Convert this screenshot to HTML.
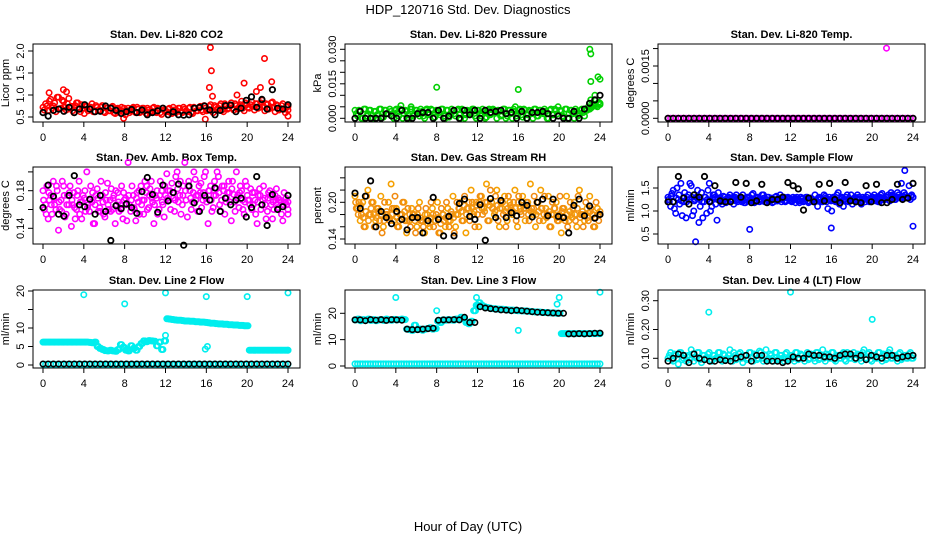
<!DOCTYPE html>
<html><head><meta charset="utf-8"><style>
html,body{margin:0;padding:0;background:#fff;}
svg{display:block;font-family:"Liberation Sans",Arial,sans-serif;}
</style></head><body>
<svg id="fig" xmlns="http://www.w3.org/2000/svg" width="936" height="540" viewBox="0 0 936 540">
<text x="468" y="14" text-anchor="middle" font-size="13">HDP_120716  Std. Dev. Diagnostics</text>
<text x="468" y="531" text-anchor="middle" font-size="13">Hour of Day (UTC)</text>
</svg>
<script>
// ---------- data ----------
const xTicks = [0,4,8,12,16,20,24];
const co2Red = [0.72,0.8,0.65,0.9,0.75,0.62,0.95,0.7,0.85,0.66,0.92,0.74,0.6,0.82,0.7,0.78,0.58,0.74,0.68,0.8,0.62,0.72,0.66,0.76,0.6,0.7,0.64,0.74,0.58,0.7,0.66,0.62,0.55,0.7,0.64,0.72,0.6,0.68,0.62,0.7,0.58,0.66,0.64,0.72,0.6,0.68,0.56,0.66,0.62,0.7,0.58,0.66,0.64,0.7,0.6,0.68,0.62,0.72,0.58,0.7,0.64,0.74,0.62,0.7,0.66,0.78,0.6,0.72,0.68,0.8,0.62,0.74,0.7,0.82,0.66,0.76,0.72,0.86,0.64,0.78,0.7,0.84,0.66,0.8,0.72,0.88,0.64,0.78,0.7,0.84,0.62,0.76,0.68,0.8,0.6,0.74];
const co2RedB = [0.66,0.75,0.86,0.7,0.82,0.95,0.68,0.88,0.72,0.8,0.7,0.64,0.76,0.68,0.62,0.7,0.74,0.64,0.72,0.62,0.76,0.66,0.72,0.62,0.7,0.64,0.72,0.6,0.68,0.62,0.72,0.7,0.64,0.6,0.7,0.62,0.72,0.6,0.7,0.64,0.7,0.6,0.7,0.62,0.7,0.6,0.7,0.64,0.68,0.6,0.72,0.6,0.7,0.62,0.72,0.64,0.7,0.6,0.72,0.64,0.7,0.66,0.76,0.64,0.74,0.66,0.76,0.68,0.76,0.66,0.8,0.68,0.76,0.7,0.8,0.68,0.78,0.7,0.82,0.72,0.78,0.74,0.8,0.7,0.82,0.74,0.8,0.68,0.82,0.72,0.78,0.66,0.76,0.68,0.72,0.66];
const co2OutT = [0.6,2.0,2.3,16.4,16.5,16.3,16.6,21.7,22.4,19.7,21.3,20.9,19.0,15.9,7.9,3.4,24];
const co2OutV = [1.05,1.12,1.07,2.08,1.55,1.17,0.97,1.83,1.3,1.27,1.17,1.08,1.0,0.45,0.47,0.82,0.52];
const co2Black = [0.6,0.52,0.65,0.68,0.63,0.72,0.6,0.68,0.78,0.68,0.62,0.63,0.75,0.7,0.65,0.58,0.62,0.67,0.6,0.66,0.55,0.6,0.64,0.7,0.55,0.62,0.55,0.54,0.55,0.7,0.72,0.75,0.66,0.55,0.65,0.76,0.77,0.62,0.7,0.88,0.96,0.72,0.9,0.68,1.12,0.7,0.68,0.78];

const presGreen = [0.0035,0.001,0.003,0,0.004,0.002,0.0035,0,0.003,0.0015,0.004,0.0005,0.0035,0.002,0.003,0,0.004,0.001,0.0035,0.002,0.003,0,0.004,0.0015,0.0035,0.001,0.003,0,0.004,0.002,0.0035,0.0005,0.003,0.0015,0.004,0,0.0035,0.002,0.003,0.001,0.004,0,0.0035,0.0015,0.003,0.002,0.004,0,0.0035,0.001,0.003,0.0005,0.004,0.002,0.0035,0,0.003,0.0015,0.004,0.001,0.0035,0,0.003,0.002,0.004,0.0005,0.0035,0.0015,0.003,0,0.004,0.001,0.0035,0.002,0.003,0,0.004,0.0015,0.0035,0.001,0.003,0.0005,0.004,0.002,0.0035,0,0.003,0.0015,0.004,0.001,0.0035,0.004,0.005,0.006,0.005,0.006];
const presGreenB = [0.002,0.0035,0,0.004,0.001,0.0035,0,0.003,0.0015,0.004,0.0005,0.0035,0.002,0.004,0.001,0.0035,0.0025,0.004,0,0.0035,0.0015,0.004,0.001,0.0035,0.0025,0.004,0.001,0.0035,0.0015,0.004,0,0.0035,0.0025,0.004,0.001,0.0035,0.0005,0.004,0.002,0.0035,0.0015,0.004,0,0.0035,0.0025,0.004,0.001,0.0035,0.002,0.004,0,0.0035,0.0015,0.004,0.0025,0.0035,0.001,0.004,0,0.0035,0.002,0.004,0.001,0.0035,0.0015,0.004,0,0.0035,0.002,0.004,0.001,0.0035,0.0025,0.004,0,0.0035,0.0015,0.004,0.002,0.0035,0.001,0.004,0,0.0035,0.002,0.004,0.001,0.0035,0.0025,0.004,0.005,0.0045,0.006,0.0055,0.007,0.0065];
const presOutT = [4.5,5.5,8.0,16.0,15.7,19.9,23.0,23.1,23.1,23.8,24.0,23.1,23.5,7.0];
const presOutV = [0.0055,0.005,0.0135,0.0125,0.005,0.005,0.030,0.028,0.016,0.018,0.017,0.008,0.010,0.004];
const presBlack = [0,0.003,0,0,0,0,0.002,0.001,0,0.0035,0,0,0.002,0.0025,0.0025,0,0.0035,0,0.001,0.0035,0,0.0035,0.0015,0.0035,0,0.0035,0.0025,0.003,0.0035,0.002,0.0025,0,0.003,0,0.0025,0.0025,0.003,0.002,0,0.001,0,0,0.003,0,0.004,0.0065,0.008,0.01];

const tempMag = new Array(96).fill(0);
const tempOutT = [21.4];
const tempOutV = [0.00201];
const tempBlack = new Array(48).fill(0);

const ambMagA = [0.18,0.165,0.15,0.175,0.19,0.16,0.138,0.17,0.185,0.155,0.165,0.142,0.178,0.16,0.19,0.15,0.172,0.2,0.158,0.168,0.145,0.182,0.162,0.175,0.152,0.188,0.17,0.16,0.145,0.178,0.165,0.15,0.172,0.21,0.158,0.175,0.148,0.168,0.185,0.155,0.178,0.162,0.19,0.145,0.172,0.16,0.18,0.152,0.198,0.17,0.188,0.158,0.2,0.175,0.165,0.21,0.152,0.18,0.168,0.192,0.158,0.178,0.17,0.2,0.145,0.185,0.162,0.175,0.195,0.158,0.18,0.168,0.19,0.148,0.176,0.2,0.162,0.18,0.155,0.185,0.17,0.16,0.178,0.145,0.182,0.165,0.172,0.158,0.18,0.15,0.175,0.162,0.17,0.148,0.168,0.155];
const ambMagB = [0.16,0.185,0.17,0.155,0.165,0.18,0.16,0.19,0.152,0.175,0.185,0.165,0.15,0.18,0.168,0.175,0.158,0.165,0.185,0.145,0.175,0.158,0.19,0.155,0.17,0.16,0.182,0.175,0.165,0.158,0.185,0.17,0.148,0.165,0.185,0.16,0.178,0.155,0.17,0.19,0.16,0.182,0.168,0.175,0.155,0.19,0.165,0.175,0.18,0.16,0.172,0.195,0.168,0.155,0.185,0.17,0.19,0.16,0.2,0.175,0.185,0.162,0.195,0.168,0.18,0.158,0.19,0.2,0.165,0.185,0.155,0.178,0.168,0.19,0.158,0.175,0.185,0.16,0.19,0.17,0.182,0.165,0.155,0.175,0.16,0.185,0.15,0.178,0.165,0.16,0.182,0.17,0.155,0.178,0.165,0.16];
const ambMagC = [0.17,0.155,0.178,0.165,0.172,0.185,0.168,0.158,0.175,0.165,0.178,0.17,0.162,0.175,0.155,0.168,0.18,0.162,0.17,0.178,0.165,0.172,0.158,0.168,0.178,0.165,0.158,0.172,0.18,0.168,0.16,0.178,0.165,0.175,0.17,0.162,0.172,0.18,0.165,0.17,0.185,0.175,0.172,0.165,0.18,0.175,0.168,0.185,0.172,0.18,0.178,0.17,0.182,0.19,0.175,0.18,0.185,0.172,0.178,0.17,0.175,0.188,0.178,0.172,0.18,0.17,0.175,0.182,0.178,0.17,0.185,0.172,0.178,0.182,0.168,0.172,0.178,0.17,0.168,0.175,0.165,0.178,0.17,0.168,0.175,0.17,0.165,0.172,0.175,0.168,0.17,0.172,0.168,0.165,0.172,0.168];
const ambBlack = [0.162,0.186,0.174,0.155,0.153,0.175,0.196,0.165,0.163,0.171,0.155,0.175,0.158,0.127,0.164,0.161,0.166,0.162,0.156,0.179,0.194,0.176,0.157,0.186,0.169,0.178,0.187,0.122,0.185,0.167,0.158,0.175,0.17,0.183,0.158,0.172,0.165,0.17,0.172,0.152,0.162,0.195,0.165,0.143,0.176,0.16,0.163,0.175];

const rhA = [0.21,0.19,0.17,0.2,0.16,0.22,0.18,0.2,0.17,0.19,0.21,0.16,0.18,0.2,0.23,0.17,0.19,0.16,0.18,0.2,0.15,0.17,0.19,0.18,0.16,0.2,0.17,0.15,0.18,0.16,0.19,0.17,0.2,0.15,0.18,0.16,0.19,0.17,0.21,0.16,0.18,0.2,0.17,0.15,0.19,0.22,0.18,0.2,0.16,0.21,0.19,0.23,0.17,0.2,0.18,0.22,0.16,0.19,0.21,0.17,0.2,0.18,0.22,0.16,0.19,0.21,0.17,0.2,0.23,0.18,0.16,0.2,0.22,0.17,0.19,0.21,0.16,0.18,0.2,0.17,0.15,0.19,0.21,0.17,0.18,0.2,0.16,0.22,0.18,0.17,0.19,0.21,0.18,0.16,0.19,0.18];
const rhB = [0.19,0.2,0.18,0.16,0.21,0.18,0.2,0.16,0.19,0.17,0.15,0.2,0.18,0.17,0.19,0.21,0.16,0.18,0.2,0.17,0.19,0.16,0.18,0.15,0.19,0.17,0.16,0.19,0.17,0.2,0.16,0.18,0.15,0.19,0.17,0.2,0.16,0.18,0.15,0.2,0.19,0.17,0.21,0.19,0.17,0.2,0.16,0.18,0.21,0.18,0.2,0.17,0.22,0.19,0.21,0.17,0.2,0.18,0.16,0.21,0.19,0.2,0.17,0.21,0.18,0.19,0.2,0.17,0.19,0.21,0.2,0.17,0.19,0.21,0.18,0.16,0.2,0.19,0.17,0.21,0.19,0.17,0.16,0.2,0.19,0.17,0.21,0.18,0.16,0.2,0.17,0.19,0.16,0.2,0.17,0.18];
const rhC = [0.2,0.18,0.195,0.175,0.185,0.17,0.19,0.18,0.175,0.185,0.18,0.17,0.185,0.175,0.18,0.19,0.175,0.17,0.18,0.185,0.17,0.18,0.175,0.17,0.18,0.175,0.17,0.18,0.165,0.175,0.18,0.17,0.175,0.165,0.18,0.175,0.17,0.185,0.175,0.18,0.19,0.185,0.195,0.18,0.2,0.19,0.185,0.195,0.2,0.19,0.185,0.2,0.195,0.19,0.185,0.195,0.19,0.2,0.185,0.19,0.195,0.185,0.19,0.2,0.185,0.195,0.19,0.18,0.185,0.19,0.18,0.185,0.19,0.18,0.175,0.185,0.18,0.19,0.175,0.18,0.185,0.175,0.18,0.185,0.175,0.18,0.19,0.175,0.185,0.18,0.175,0.185,0.18,0.175,0.18,0.185];
const rhBlack = [0.215,0.19,0.21,0.235,0.16,0.185,0.175,0.165,0.185,0.172,0.155,0.175,0.175,0.15,0.17,0.208,0.172,0.145,0.177,0.145,0.198,0.205,0.177,0.172,0.196,0.138,0.206,0.175,0.203,0.175,0.183,0.178,0.2,0.195,0.176,0.2,0.205,0.178,0.205,0.177,0.175,0.15,0.195,0.205,0.178,0.194,0.174,0.18];

const flowA = [1.3,1.1,1.45,0.95,1.25,1.6,1.2,0.85,1.35,1.55,1.0,1.3,0.75,1.4,1.2,0.95,1.6,1.1,1.35,0.8,1.25,1.15,1.3,1.2,1.35,1.25,1.3,1.2,1.28,1.35,1.18,1.3,1.22,1.38,1.2,1.3,1.25,1.35,1.2,1.3,1.26,1.2,1.32,1.25,1.2,1.3,1.22,1.28,1.2,1.25,1.3,1.18,1.26,1.22,1.3,1.2,1.25,1.35,1.1,1.28,1.2,1.32,1.05,1.25,1.3,1.2,1.4,1.25,1.1,1.3,1.2,1.35,1.25,1.2,1.3,1.15,1.25,1.3,1.2,1.25,1.35,1.3,1.2,1.38,1.25,1.3,1.22,1.35,1.25,1.4,1.3,1.28,1.35,1.3,1.25,1.3];
const flowB = [1.2,1.38,1.05,1.5,1.15,0.9,1.4,1.3,1.6,0.9,1.25,1.45,1.1,0.85,1.3,1.45,1.0,1.35,1.15,1.4,1.2,1.32,1.18,1.3,1.22,1.15,1.35,1.28,1.2,1.18,1.3,1.22,1.35,1.18,1.3,1.2,1.35,1.2,1.3,1.22,1.18,1.3,1.22,1.35,1.28,1.2,1.3,1.22,1.3,1.18,1.22,1.3,1.2,1.3,1.18,1.28,1.2,1.22,1.3,1.2,1.35,1.2,1.3,1.0,1.22,1.35,1.15,1.3,1.25,1.35,1.25,1.15,1.3,1.35,1.2,1.3,1.2,1.35,1.25,1.3,1.22,1.2,1.35,1.25,1.3,1.35,1.4,1.28,1.3,1.35,1.6,1.4,1.3,1.55,1.35,1.3];
const flowC = [1.25,1.32,1.2,1.28,1.35,1.22,1.3,1.2,1.25,1.3,1.22,1.28,1.25,1.2,1.3,1.25,1.22,1.28,1.3,1.25,1.28,1.22,1.25,1.28,1.25,1.3,1.22,1.25,1.3,1.22,1.25,1.28,1.25,1.22,1.28,1.25,1.22,1.28,1.25,1.22,1.28,1.25,1.22,1.28,1.25,1.22,1.28,1.25,1.22,1.28,1.25,1.22,1.28,1.25,1.22,1.28,1.25,1.22,1.28,1.25,1.22,1.28,1.25,1.22,1.28,1.25,1.22,1.28,1.25,1.22,1.28,1.25,1.22,1.28,1.25,1.22,1.28,1.25,1.22,1.3,1.28,1.25,1.3,1.28,1.25,1.3,1.28,1.32,1.25,1.3,1.28,1.32,1.3,1.28,1.32,1.3];
const flowOutT = [2.7,8.0,16.0,24.0,23.2];
const flowOutV = [0.33,0.6,0.63,0.67,1.88];
const flowBlack = [1.2,1.2,1.75,1.28,1.15,1.35,1.3,1.75,1.2,1.55,1.22,1.2,1.2,1.62,1.3,1.6,1.18,1.22,1.58,1.18,1.25,1.25,1.3,1.62,1.55,1.48,1.02,1.28,1.2,1.58,1.22,1.6,1.25,1.18,1.62,1.22,1.2,1.18,1.55,1.2,1.58,1.18,1.18,1.25,1.58,1.25,1.28,1.6];

const line2Cyan = [6.2,6.2,6.2,6.2,6.2,6.2,6.2,6.2,6.2,6.2,6.2,6.2,6.2,6.2,6.2,6.2,6.2,6.2,6.1,6.0,6.2,5,4.5,4.2,3.9,3.8,4.0,3.8,3.7,4.2,5.5,4.8,4.0,3.8,5.2,4.5,4.0,5.0,5.8,6.5,6.3,6.6,6.5,6.4,5.2,6.2,4.2,6.5,12.5,12.4,12.3,12.2,12.1,12.1,12.0,11.9,11.9,11.8,11.8,11.7,11.7,11.6,11.6,11.5,11.4,11.3,11.3,11.2,11.1,11.1,11.0,11.0,10.9,10.9,10.8,10.8,10.7,10.7,10.6,10.6,4,4,4,4,4,4,4,4,4,4,4,4,4,4,4,4];
const line2Zero = new Array(96).fill(0.2);
const line2OutT = [4.0,8.0,12.0,16.0,20.0,24.0,15.9,16.1,12.0,12.0];
const line2OutV = [19.0,16.5,19.5,18.5,18.5,19.5,4.3,5.0,8.0,6.5];
const line2Black = new Array(48).fill(0.3);

const line3Cyan = [17.5,17.8,17.2,17.6,17.4,17.8,17.3,17.6,17.2,17.5,17.6,17.3,17.8,17.5,17.4,17.7,17.5,17.6,17.8,17.6,14,13.8,13.5,15.5,13.8,14,13.6,14,14.2,14.5,14,14.2,17,16.5,17.5,17.4,17.6,17.5,17.4,17.8,17.6,18.5,18,16.5,16,17,21,23,24,23,22.5,22.2,22,21.8,21.7,21.6,21.5,21.5,21.4,21.3,21.2,21.2,21.1,21,21,20.9,20.9,20.8,20.7,20.6,20.5,20.5,20.4,20.3,20.3,20.2,20.1,20.1,20,20,12.3,12.3,12.3,12.3,12.3,12.3,12.3,12.3,12.3,12.3,12.3,12.3,12.3,12.3,12.3,12.3];
const line3Zero = new Array(96).fill(0.8);
const line3OutT = [4.0,8.0,11.9,12.1,11.8,19.8,16.0,20.0,24.0];
const line3OutV = [26,21,26,23,21,23.5,13.5,26,28];
const line3Black = [17.5,17.5,17.2,17.6,17.4,17.6,17.3,17.6,17.5,17.4,14,13.8,13.8,14,14.2,14.3,17.4,17.5,17.5,17.6,17.5,18.5,16.5,16.5,22.5,22,21.8,21.5,21.3,21.2,21,21.2,21,20.8,20.6,20.4,20.3,20.2,20.1,20,20,12.2,12.2,12.3,12.2,12.3,12.4,12.5];

const line4Cyan = [0.1,0.12,0.09,0.11,0.08,0.12,0.1,0.09,0.11,0.13,0.09,0.1,0.12,0.085,0.11,0.1,0.12,0.09,0.11,0.1,0.12,0.09,0.11,0.1,0.13,0.09,0.11,0.1,0.12,0.085,0.11,0.1,0.12,0.09,0.11,0.1,0.12,0.09,0.13,0.1,0.11,0.09,0.12,0.1,0.11,0.09,0.12,0.1,0.11,0.09,0.12,0.1,0.11,0.09,0.12,0.1,0.11,0.09,0.12,0.1,0.13,0.09,0.11,0.1,0.12,0.09,0.11,0.1,0.12,0.09,0.11,0.1,0.12,0.1,0.11,0.09,0.13,0.1,0.12,0.09,0.11,0.1,0.12,0.09,0.11,0.1,0.13,0.1,0.11,0.09,0.12,0.1,0.11,0.1,0.12,0.1];
const line4CyanB = [0.11,0.095,0.115,0.1,0.12,0.095,0.11,0.105,0.095,0.115,0.105,0.12,0.095,0.11,0.1,0.115,0.095,0.11,0.1,0.12,0.1,0.115,0.095,0.11,0.1,0.12,0.095,0.115,0.1,0.11,0.095,0.12,0.1,0.115,0.095,0.125,0.1,0.11,0.095,0.115,0.1,0.12,0.095,0.11,0.1,0.115,0.095,0.11,0.1,0.12,0.095,0.115,0.1,0.11,0.095,0.115,0.1,0.12,0.095,0.11,0.1,0.115,0.1,0.12,0.095,0.11,0.1,0.115,0.095,0.12,0.1,0.11,0.095,0.115,0.1,0.12,0.1,0.115,0.095,0.11,0.1,0.12,0.1,0.115,0.095,0.12,0.1,0.11,0.1,0.115,0.095,0.11,0.1,0.115,0.1,0.11];
const line4OutT = [4.0,12.0,20.0];
const line4OutV = [0.26,0.33,0.235];
const line4Black = [0.09,0.1,0.115,0.11,0.085,0.115,0.1,0.095,0.09,0.09,0.095,0.092,0.09,0.1,0.105,0.11,0.09,0.11,0.11,0.09,0.09,0.09,0.085,0.09,0.105,0.1,0.1,0.115,0.11,0.11,0.105,0.105,0.1,0.11,0.115,0.115,0.1,0.11,0.095,0.11,0.105,0.1,0.11,0.11,0.1,0.105,0.108,0.11];

// ---------- drawing ----------
const NS = "http://www.w3.org/2000/svg";
const svg = document.getElementById('fig');
const ROWS = [[44,122],[167,244],[290,368]];
const COLX = [43,355,668];
const XSPAN = 245;
function mk(tag, attrs, parent){
  const e = document.createElementNS(NS, tag);
  for (const k in attrs) e.setAttribute(k, attrs[k]);
  (parent||svg).appendChild(e);
  return e;
}
function evenTimes(n, shift){ const t=[]; for(let i=0;i<n;i++) t.push(Math.min(24, i*24/(n-1) + (shift||0))); return t; }

function panel(p){
  const g = mk('g', {});
  
  
  const x0 = COLX[p.col], top = ROWS[p.row][0], bot = ROWS[p.row][1];
  const xs = v => x0 + v*XSPAN/24;
  const ys = v => p.ay + (v - p.av)*(p.by - p.ay)/(p.bv - p.av);
  const left = x0-10, right = x0+257;
  const title = mk('text', {x:(left+right)/2, y:top-6, 'text-anchor':'middle', 'font-size':'11', 'font-weight':'bold'}, g);
  title.textContent = p.title;
  
  
  p.series.forEach(s => {
    const sg = mk('g', {fill:'none', stroke:s.color, 'stroke-width': s.sw||1.6}, g);
    
    
    const ts = s.t || evenTimes(s.v.length, s.shift);
    s.v.forEach((v,i) => {
      const c = mk('circle', {cx:xs(ts[i]).toFixed(1), cy:ys(v).toFixed(1), r:s.r||2.7}, sg);
      
      
    });
  });
  const box = mk('rect', {x:left, y:top, width:right-left, height:bot-top, fill:'none', stroke:'#000', 'stroke-width':1}, g);
  
  
  const xa = mk('g', {stroke:'#000', 'stroke-width':1}, g);
  
  
  mk('line', {x1:xs(xTicks[0]), x2:xs(xTicks[xTicks.length-1]), y1:bot, y2:bot}, xa);
  xTicks.forEach(t => {
    mk('line', {x1:xs(t), x2:xs(t), y1:bot, y2:bot+5}, xa);
    const tl = mk('text', {x:xs(t), y:bot+19, 'text-anchor':'middle', 'font-size':'11', stroke:'none', fill:'#000'}, xa);
    tl.textContent = t;
    
    
  });
  const ya = mk('g', {stroke:'#000', 'stroke-width':1}, g);
  
  
  mk('line', {x1:left, x2:left, y1:ys(p.ticks[0]), y2:ys(p.ticks[p.ticks.length-1])}, ya);
  p.ticks.forEach((t,i) => {
    mk('line', {x1:left-5, x2:left, y1:ys(t), y2:ys(t)}, ya);
    if (p.labels[i]) {
      const yy = ys(t), xx = left-9;
      const tl = mk('text', {x:xx, y:yy, transform:`rotate(-90 ${xx} ${yy})`, 'text-anchor':'middle', 'font-size':'11', stroke:'none', fill:'#000'}, ya);
      tl.textContent = p.labels[i];
      
      
    }
  });
  const cy = (top+bot)/2, cx = left-24;
  const yt = mk('text', {x:cx, y:cy, transform:`rotate(-90 ${cx} ${cy})`, 'text-anchor':'middle', 'font-size':'11'}, g);
  yt.textContent = p.ylab;
  
  
}

const BLK = '#000', CY = '#00eeee';
panel({name:'co2-panel', col:0,row:0,title:'Stan. Dev. Li-820 CO2', ylab:'Licor ppm', av:0.5,ay:117,bv:2.0,by:51,
  ticks:[0.5,1.0,1.5,2.0], labels:['0.5','1.0','1.5','2.0'],
  series:[{name:'co2-red-series',v:co2Red,color:'#ff0000'},{name:'co2-red-series-b',v:co2RedB,color:'#ff0000',shift:0.125},{name:'co2-red-outliers',v:co2OutV,t:co2OutT,color:'#ff0000'},{name:'co2-black-series',v:co2Black,color:BLK,sw:1.8}]});
panel({name:'pressure-panel', col:1,row:0,title:'Stan. Dev. Li-820 Pressure', ylab:'kPa', av:0,ay:118.3,bv:0.03,by:49.3,
  ticks:[0,0.005,0.01,0.015,0.02,0.025,0.03], labels:['0.000',null,null,'0.015',null,null,'0.030'],
  series:[{name:'pressure-green-series',v:presGreen,color:'#00d000'},{name:'pressure-green-series-b',v:presGreenB,color:'#00d000',shift:0.125},{name:'pressure-green-outliers',v:presOutV,t:presOutT,color:'#00d000'},{name:'pressure-black-series',v:presBlack,color:BLK,sw:1.8}]});
panel({name:'temp-panel', col:2,row:0,title:'Stan. Dev. Li-820 Temp.', ylab:'degrees C', av:0,ay:118.3,bv:0.0015,by:66,
  ticks:[0,0.0005,0.001,0.0015,0.002], labels:['0.0000',null,null,'0.0015',null],
  series:[{name:'temp-magenta-series',v:tempMag,color:'#ff00ff'},{name:'temp-magenta-outliers',v:tempOutV,t:tempOutT,color:'#ff00ff'},{name:'temp-black-series',v:tempBlack,color:BLK,sw:1.8}]});
panel({name:'amb-temp-panel', col:0,row:1,title:'Stan. Dev. Amb. Box Temp.', ylab:'degrees C', av:0.14,ay:228.3,bv:0.18,by:190.7,
  ticks:[0.14,0.16,0.18,0.2], labels:['0.14',null,'0.18',null],
  series:[{name:'amb-magenta-a',v:ambMagA,color:'#ff00ff'},{name:'amb-magenta-b',v:ambMagB,color:'#ff00ff',shift:0.125},{name:'amb-magenta-c',v:ambMagC,color:'#ff00ff',shift:0.06},{name:'amb-black-series',v:ambBlack,color:BLK,sw:1.8}]});
panel({name:'rh-panel', col:1,row:1,title:'Stan. Dev. Gas Stream RH', ylab:'percent', av:0.14,ay:239,bv:0.2,by:202.3,
  ticks:[0.14,0.16,0.18,0.2,0.22,0.24], labels:['0.14',null,null,'0.20',null,null],
  series:[{name:'rh-orange-a',v:rhA,color:'#f5a000'},{name:'rh-orange-b',v:rhB,color:'#f08a10',shift:0.125},{name:'rh-orange-c',v:rhC,color:'#f29510',shift:0.06},{name:'rh-black-series',v:rhBlack,color:BLK,sw:1.8}]});
panel({name:'sample-flow-panel', col:2,row:1,title:'Stan. Dev. Sample Flow', ylab:'ml/min', av:0.5,ay:234,bv:1.5,by:188,
  ticks:[0.5,1.0,1.5], labels:['0.5','1.0','1.5'],
  series:[{name:'flow-blue-a',v:flowA,color:'#0000ff'},{name:'flow-blue-b',v:flowB,color:'#0000ff',shift:0.125},{name:'flow-blue-c',v:flowC,color:'#0000ff',shift:0.06},{name:'flow-blue-outliers',v:flowOutV,t:flowOutT,color:'#0000ff'},{name:'flow-black-series',v:flowBlack,color:BLK,sw:1.8}]});
panel({name:'line2-panel', col:0,row:2,title:'Stan. Dev. Line 2 Flow', ylab:'ml/min', av:0,ay:365,bv:20,by:291,
  ticks:[0,5,10,15,20], labels:['0','5','10',null,'20'],
  series:[{name:'line2-cyan-series',v:line2Cyan,color:CY},{name:'line2-cyan-series-b',v:line2Cyan,color:CY,shift:0.125},{name:'line2-cyan-zero',v:line2Zero,color:CY},{name:'line2-cyan-outliers',v:line2OutV,t:line2OutT,color:CY},{name:'line2-black-series',v:line2Black,color:BLK,sw:1.5}]});
panel({name:'line3-panel', col:1,row:2,title:'Stan. Dev. Line 3 Flow', ylab:'ml/min', av:0,ay:366,bv:20,by:313.3,
  ticks:[0,10,20], labels:['0','10','20'],
  series:[{name:'line3-cyan-series',v:line3Cyan,color:CY},{name:'line3-cyan-series-b',v:line3Cyan,color:CY,shift:0.125},{name:'line3-cyan-zero',v:line3Zero,color:CY},{name:'line3-cyan-outliers',v:line3OutV,t:line3OutT,color:CY},{name:'line3-black-series',v:line3Black,color:BLK,sw:1.6}]});
panel({name:'line4-panel', col:2,row:2,title:'Stan. Dev. Line 4 (LT) Flow', ylab:'ml/min', av:0.1,ay:358.3,bv:0.3,by:300.7,
  ticks:[0.1,0.2,0.3], labels:['0.10','0.20','0.30'],
  series:[{name:'line4-cyan-series',v:line4Cyan,color:CY},{name:'line4-cyan-series-b',v:line4CyanB,color:CY,shift:0.125},{name:'line4-cyan-outliers',v:line4OutV,t:line4OutT,color:CY},{name:'line4-black-series',v:line4Black,color:BLK,sw:1.6}]});
</script>
</body></html>
